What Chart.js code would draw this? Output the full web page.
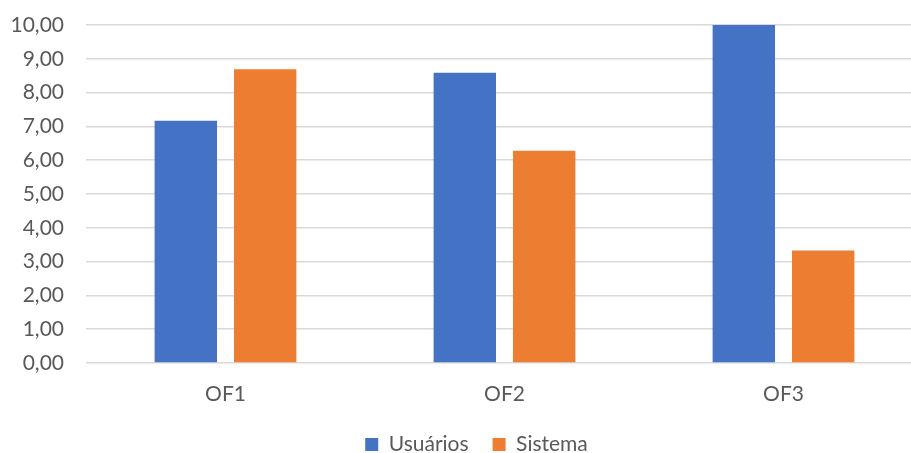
<!DOCTYPE html>
<html>
<head>
<meta charset="utf-8">
<script src="https://cdn.jsdelivr.net/npm/chart.js@4/dist/chart.umd.min.js"></script>
<style>
  html, body { margin: 0; padding: 0; background: #fff; }
  #chart { display: block; }
</style>
</head>
<body>
<canvas id="chart" width="911" height="453"></canvas>
<script>
// Scores per OF, users vs. system
const categories = ["OF1", "OF2", "OF3"];
const usuarios = [7.17, 8.59, 10.0];
const sistema = [8.69, 6.28, 3.33];
const seriesNames = ["Usuários", "Sistema"];

const textColor = "#595959";
const fontFamily = "Lato, 'Open Sans', sans-serif";

// 0,00 style labels (comma decimal)
function formatTick(value) {
  return Number(value).toFixed(2).replace(".", ",");
}

// legend sits a bit right of the canvas centre, and the category
// axis runs a little past the right edge of the canvas
const layoutTweaks = {
  id: "layoutTweaks",
  afterLayout(chart) {
    if (chart.legend) {
      chart.legend.left += 42;
    }
    const x = chart.scales.x;
    x.right += 12;
    x.width += 12;
    x.configure();
  },
};

document.addEventListener("DOMContentLoaded", function () {
  const ctx = document.getElementById("chart");
  new Chart(ctx, {
    type: "bar",
    data: {
      labels: categories,
      datasets: [
        {
          label: seriesNames[0],
          data: usuarios,
          backgroundColor: "#4472C4",
          borderWidth: 0,
        },
        {
          label: seriesNames[1],
          data: sistema,
          backgroundColor: "#ED7D31",
          borderWidth: 0,
        },
      ],
    },
    plugins: [layoutTweaks],
    options: {
      responsive: false,
      animation: false,
      categoryPercentage: 0.569,
      barPercentage: 0.786,
      layout: {
        padding: { top: 25, right: 0, left: 0, bottom: -12 },
      },
      plugins: {
        tooltip: { enabled: false },
        legend: {
          position: "bottom",
          labels: {
            boxWidth: 13,
            boxHeight: 13,
            padding: 24,
            color: textColor,
            font: { family: fontFamily, size: 21 },
          },
        },
      },
      scales: {
        x: {
          afterFit: function (scale) {
            scale.height = 47;
          },
          grid: { display: false, drawTicks: false },
          border: { display: false },
          ticks: {
            color: textColor,
            padding: 19,
            font: { family: fontFamily, size: 21 },
          },
        },
        y: {
          min: 0,
          max: 10,
          afterFit: function (scale) {
            scale.width = 86;
            scale.paddingTop = 0;
            scale.paddingBottom = 0;
          },
          grid: {
            color: "#D9D9D9",
            lineWidth: 1.5,
            drawTicks: false,
          },
          border: { display: false },
          ticks: {
            stepSize: 1,
            padding: 22,
            color: textColor,
            font: { family: fontFamily, size: 21 },
            callback: formatTick,
          },
        },
      },
    },
  });
});
</script>
</body>
</html>
